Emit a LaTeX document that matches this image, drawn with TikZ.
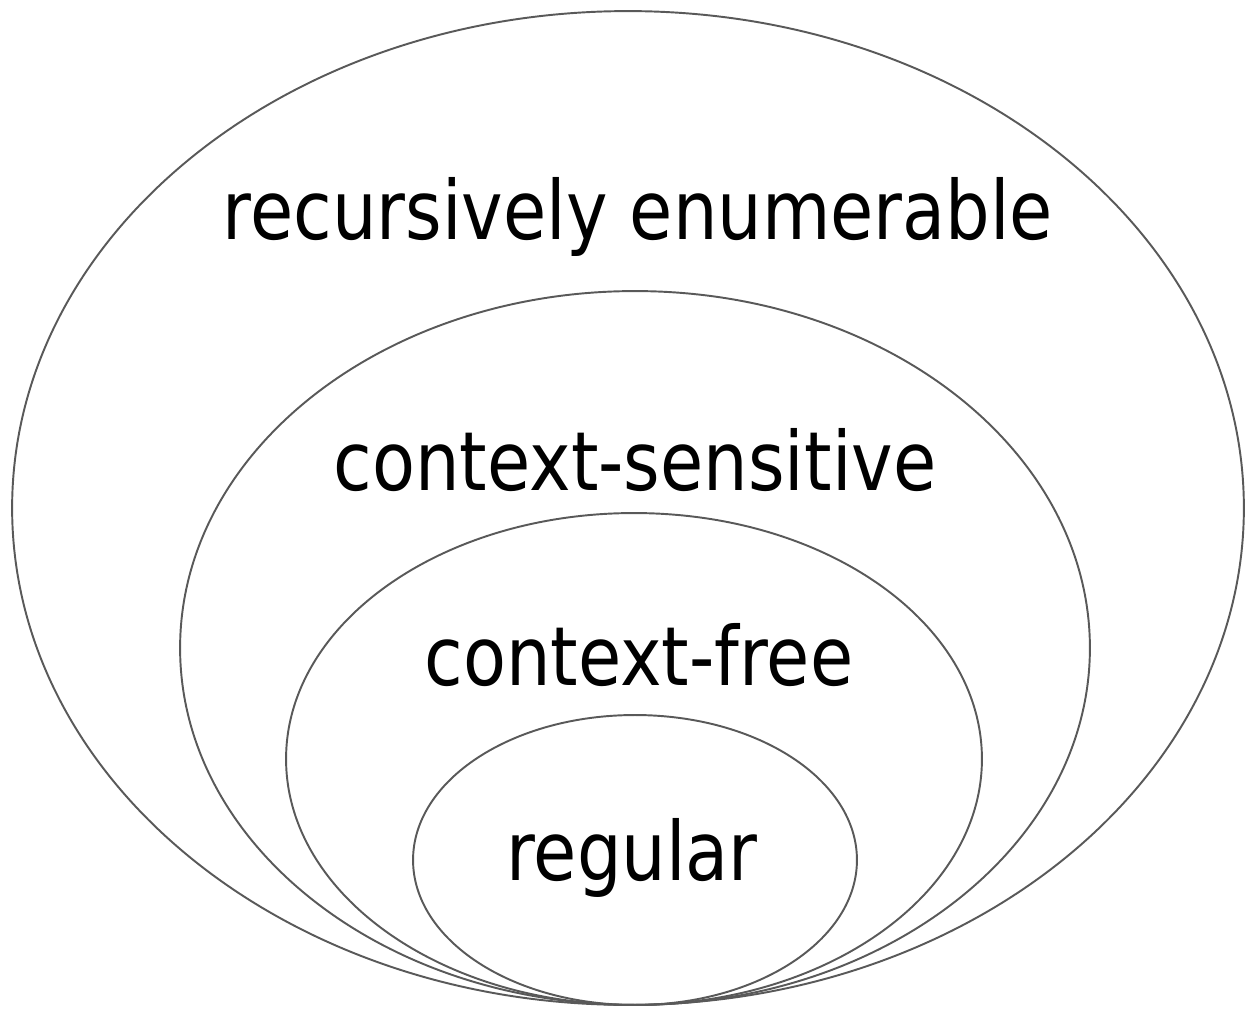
\documentclass[tikz,border=0pt]{standalone}
\usepackage{fontspec}
\newfontfamily\labfont[FakeStretch=0.86]{DejaVu Sans}
\usetikzlibrary{shapes.geometric}
\begin{document}
\begin{tikzpicture}[x=0.02cm,y=-0.02cm,
  set/.style={draw=black!65,line width=1.1pt,shape=ellipse,inner sep=0pt},
  lab/.style={anchor=base,inner sep=0pt,font=\labfont\fontsize{46.5}{55}\selectfont,text=black}]
\useasboundingbox (0,0) rectangle (1245,1010);
\node[set,minimum width=24.64cm,minimum height=19.88cm] (re) at (628,508) {};
\node[set,minimum width=18.2cm,minimum height=14.28cm] (cs) at (635,648) {};
\node[set,minimum width=13.92cm,minimum height=9.84cm] (cf) at (634,759) {};
\node[set,minimum width=8.88cm,minimum height=5.8cm] (rg) at (635,860) {};
\node[lab] (lre) at (638,240) {recursively enumerable};
\node[lab] (lcs) at (635,490) {context-sensitive};
\node[lab] (lcf) at (639,685) {context-free};
\node[lab] (lrg) at (632,880) {regular};
\end{tikzpicture}
\end{document}
